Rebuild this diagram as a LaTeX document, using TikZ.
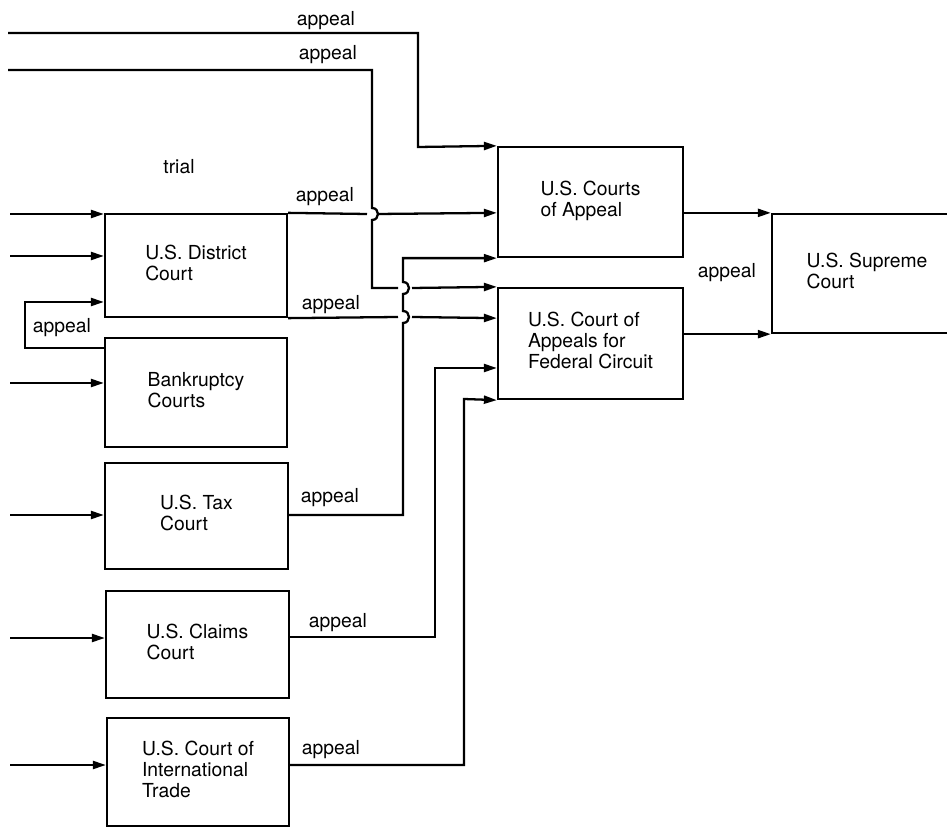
\documentclass[tikz,border=0pt]{standalone}
\usepackage{fontspec}
\setmainfont{TeX Gyre Heros}
\usetikzlibrary{arrows.meta, calc}
\newcommand{\courtlines}[1]{\begin{tabular}{@{}l@{}}#1\end{tabular}}
\tikzset{
  every picture/.style={line width=1.3pt},
  court/.style 2 args={draw, inner sep=0pt, minimum width=#1*0.02cm, minimum height=#2*0.02cm,
    font=\fontsize{11}{12}\selectfont},
  arrow/.style={-{Triangle[length=2.6mm, width=1.6mm]}},
  lbl/.style={inner sep=0pt, font=\fontsize{11}{12}\selectfont},
}

\begin{document}
\begin{tikzpicture}[x=0.02cm, y=-0.02cm]
  \path[use as bounding box] (0,0) rectangle (947,827);
  \clip (0,0) rectangle (947,827);
  % trial courts
  \node[court={182}{103}] (dist)   at (196,265.5) {\courtlines{U.S. District\\Court}};
  \node[court={182}{109}] (bank)   at (196,392.5) {\courtlines{Bankruptcy\\Courts}};
  \node[court={183}{106}] (tax)    at (196.5,516) {\courtlines{U.S. Tax\\Court}};
  \node[court={183}{107}] (claims) at (197.5,644.5) {\courtlines{U.S. Claims\\Court}};
  \node[court={182}{108}] (intl)   at (198,772) {\courtlines{U.S. Court of\\International\\Trade}};
  % appeal courts
  \node[court={185}{110}] (coa) at (590.5,202) {\courtlines{U.S. Courts\\of Appeal}};
  \node[court={185}{111}] (fed) at (590.5,343.5) {\courtlines{U.S. Court of\\Appeals for\\Federal Circuit}};
  \node[court={190}{119}] (sup) at (867,273.5) {\courtlines{U.S. Supreme\\Court}};
  \node[lbl] (trial) at (179,167) {trial};
  % inputs on the left
  \foreach \n/\y in {dist/214, dist/256, bank/383, tax/515, claims/638, intl/765} {
    \coordinate (in\y) at (10,\y);
    \draw[arrow] (in\y) -- (\n.west |- in\y);
  }
  % bankruptcy back to district court
  \draw[arrow] (bank.west |- 0,348) -| (25,302) -- (dist.west |- 0,302);
  \node[lbl] (a0) at (62,328) {appeal};
  % long lines from the top
  \coordinate (src1) at (8,33);
  \coordinate (src2) at (8,70);
  \draw[arrow] (src1) -| (418,147) -- (coa.north west);
  \node[lbl] (a1) at (326,21) {appeal};
  \draw (src2) -| (372,208) .. controls (380,208) and (380,220) .. (372,220) -- (372,288) -- (398,288);
  \draw[arrow] (412,288) -- (fed.north west);
  \node[lbl] (a2) at (328,55) {appeal};
  % district court
  \draw (dist.north east) -- (367,214);
  \draw[arrow] (377,214) -- (coa.west |- dist.north east);
  \node[lbl] (a3) at (325,197) {appeal};
  \draw (dist.south east) -- (398,317);
  \draw[arrow] (412,317) -- (fed.west |- dist.south east);
  \node[lbl] (a4) at (331,305) {appeal};
  % tax court
  \draw[arrow] (tax.east |- in515) -| (403,323) .. controls (411,323) and (411,311) .. (403,311)
    -- (403,294) .. controls (411,294) and (411,282) .. (403,282) |- (coa.south west);
  \node[lbl] (a5) at (330,498) {appeal};
  % claims and international trade
  \draw[arrow] (claims.east |- 0,637) -| (435,368) -- (fed.west |- 0,368);
  \node[lbl] (a6) at (338,623) {appeal};
  \draw[arrow] (intl.east |- in765) -| (464,399) -- (fed.south west);
  \node[lbl] (a7) at (331,750) {appeal};
  % up to the supreme court
  \draw[arrow] (coa.east |- sup.north west) -- (sup.north west);
  \draw[arrow] (fed.east |- sup.south west) -- (sup.south west);
  \node[lbl] (a8) at (727,273) {appeal};
\end{tikzpicture}
\end{document}
